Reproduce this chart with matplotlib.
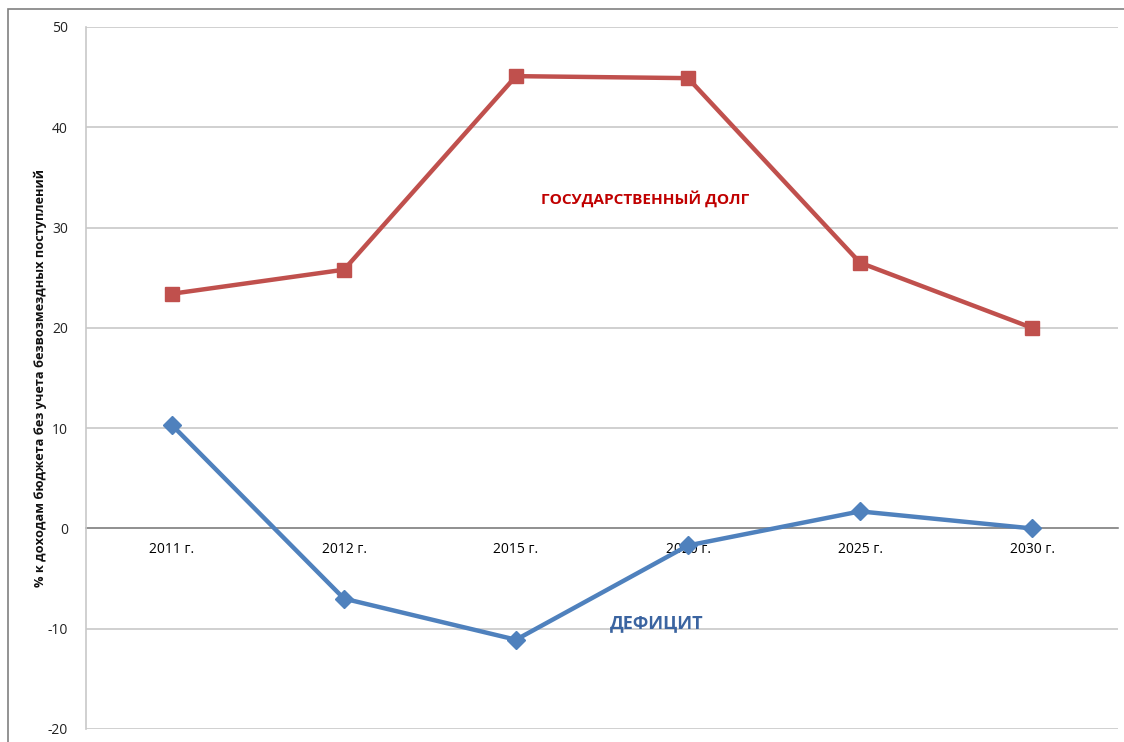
import matplotlib
matplotlib.use("Agg")
import matplotlib.pyplot as plt
from matplotlib.patches import Rectangle

categories = ["2011 г.", "2012 г.", "2015 г.", "2020 г.", "2025 г.", "2030 г."]
debt = [23.4, 25.8, 45.1, 44.9, 26.5, 20.0]
deficit = [10.3, -7.0, -11.1, -1.7, 1.7, 0.0]
yticks = [-20, -10, 0, 10, 20, 30, 40, 50]

plt.rcParams['font.family'] = ['Open Sans', 'DejaVu Sans']

fig = plt.figure(figsize=(11.24, 7.42), dpi=100)
fig.patches.append(Rectangle((8/1124, -0.1), 1.2, 1 - 9/742 + 0.1, transform=fig.transFigure,
                             fill=False, edgecolor='#808080', linewidth=1.2))
ax = fig.add_axes([86/1124, 13/742, 1032/1124, 702/742])

x = list(range(len(categories)))
ax.plot(x, debt, color='#C0504D', linewidth=3.2, marker='s', markersize=10, zorder=3)
ax.plot(x, deficit, color='#4F81BD', linewidth=3.2, marker='D', markersize=9, zorder=3)

ax.set_xlim(-0.5, 5.5)
ax.set_ylim(-20, 50)
ax.set_yticks(yticks)
ax.set_yticklabels([str(v) for v in yticks], fontsize=10, color='#222222')
ax.yaxis.grid(True, color='#c8c8c8', linewidth=1.2)
ax.set_axisbelow(True)
ax.tick_params(axis='y', length=0, pad=13)

ax.set_xticks(x)
ax.set_xticklabels(categories, fontsize=10, color='#222222')
ax.tick_params(axis='x', length=0, pad=10)
ax.spines['bottom'].set_position(('data', 0))
ax.spines['bottom'].set_color('#868686')
ax.spines['bottom'].set_linewidth(1.2)
ax.spines['bottom'].set_zorder(2)
ax.spines['top'].set_visible(False)
ax.spines['right'].set_visible(False)
ax.spines['left'].set_color('#c8c8c8')
ax.spines['left'].set_linewidth(1.2)

ax.set_ylabel("% к доходам бюджета без учета безвозмездных поступлений", fontsize=9.2,
              fontweight='bold', color='#111111', va='center')
ax.yaxis.set_label_coords(-0.0446, 0.5)

ax.text(2.75, 32.9, "ГОСУДАРСТВЕННЫЙ ДОЛГ", color='#C00000', fontsize=11.1,
        fontweight='bold', ha='center', va='center')
ax.text(2.82, -9.4, "ДЕФИЦИТ", color='#3B64A0', fontsize=13,
        fontweight='bold', ha='center', va='center')

fig.savefig("out.png", dpi=100)
